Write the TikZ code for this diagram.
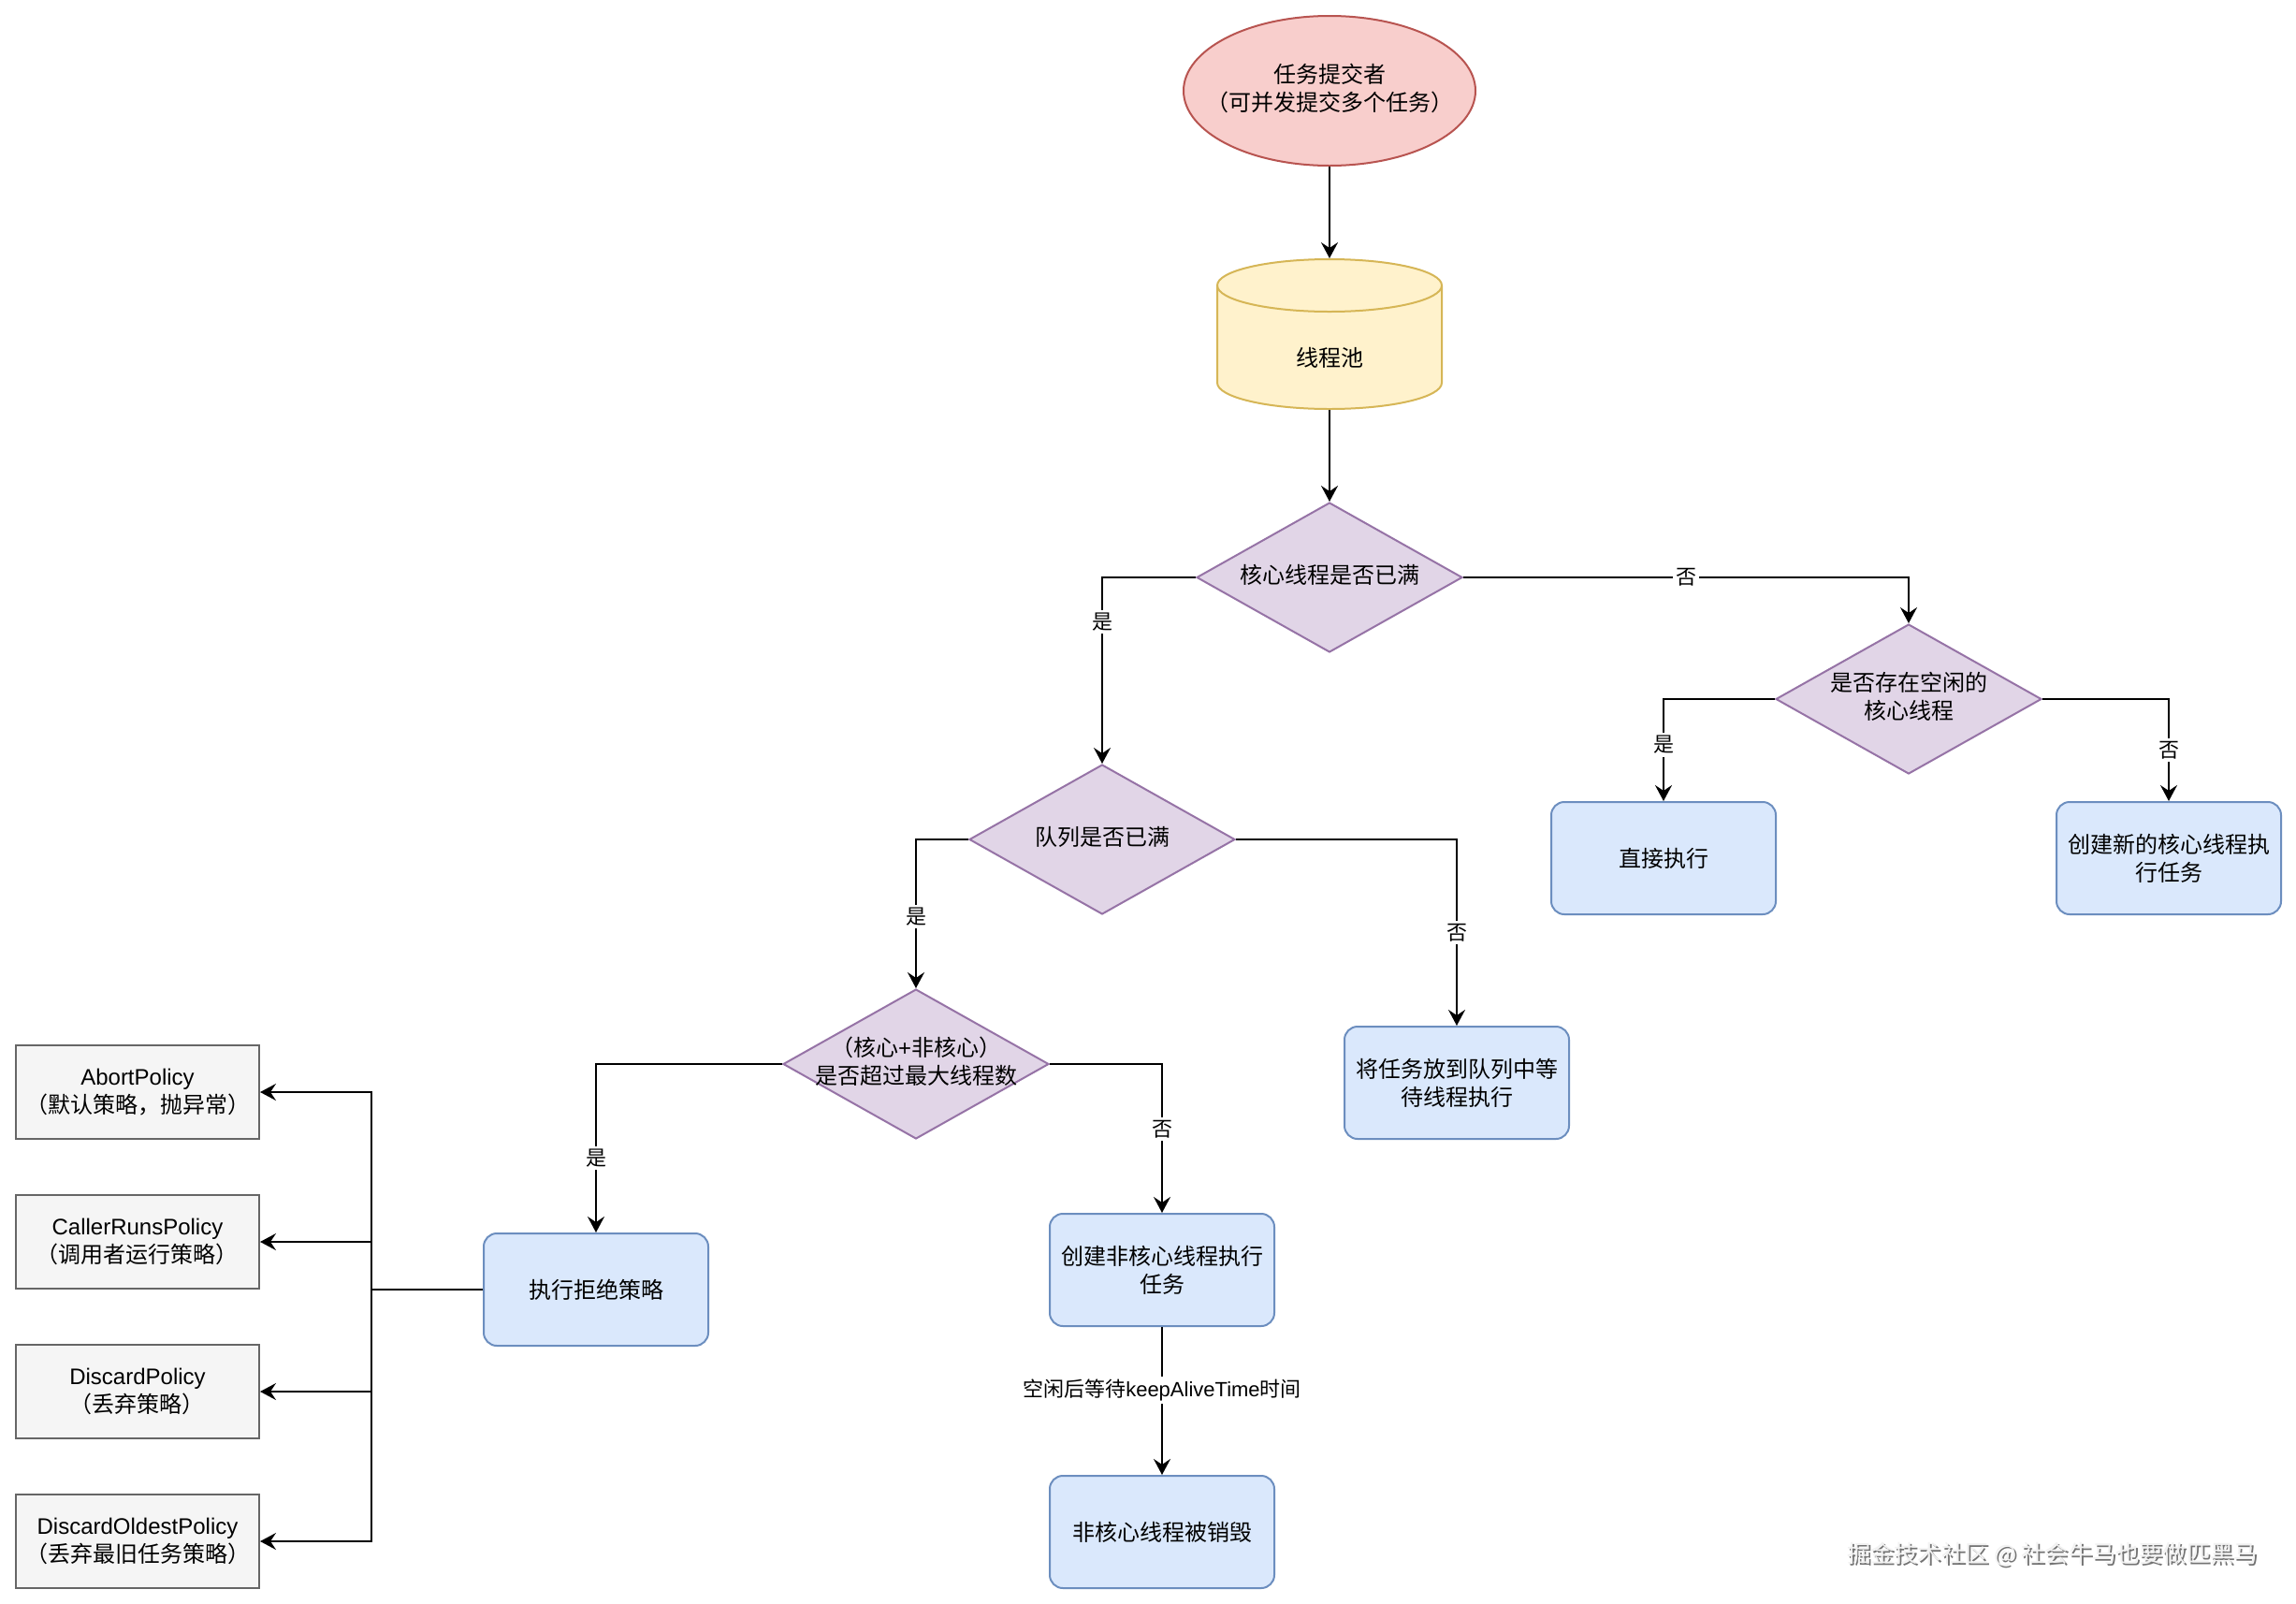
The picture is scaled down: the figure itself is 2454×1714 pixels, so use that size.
\documentclass[tikz,border=0pt]{standalone}
\usepackage{fontspec}
\setmainfont{Noto Sans CJK SC}
\newfontfamily\latin{Liberation Sans}
\usetikzlibrary{shapes.geometric,arrows.meta}
\definecolor{redfill}{HTML}{F8CECC}\definecolor{redline}{HTML}{B85450}
\definecolor{yelfill}{HTML}{FFF2CC}\definecolor{yelline}{HTML}{D6B656}
\definecolor{purfill}{HTML}{E1D5E7}\definecolor{purline}{HTML}{9673A6}
\definecolor{bluefill}{HTML}{DAE8FC}\definecolor{blueline}{HTML}{6C8EBF}
\definecolor{grayfill}{HTML}{F5F5F5}\definecolor{grayline}{HTML}{666666}
\newcommand{\dtext}[1]{\makebox[0pt]{\begin{tabular}{@{}c@{}}#1\end{tabular}}}
\newcommand{\wmark}[1]{\makebox[0pt][l]{\kern1pt\raisebox{-1pt}{\color{black!55}#1}}{\color{black!5}#1}}
\tikzset{
  base/.style={font=\fontsize{12}{15}\selectfont, line width=1pt, align=center},
  procbox/.style={base, rectangle, rounded corners=7pt, draw=blueline, fill=bluefill, minimum width=120pt, minimum height=60pt},
  decision/.style={base, diamond, draw=purline, fill=purfill, minimum width=142pt, minimum height=80pt, inner sep=0pt},
  policy/.style={base, rectangle, draw=grayline, fill=grayfill, minimum width=130pt, minimum height=50pt},
  arr/.style={line width=1pt, -{Stealth[length=8.5pt,width=9pt,inset=3pt]}},
  lbl/.style={font=\fontsize{11}{13}\selectfont, fill=white, inner sep=1.5pt},
}
\begin{document}
\begin{tikzpicture}[x=0.5pt,y=-0.5pt]
\fill[white] (0,0) rectangle (2454,1714);
\useasboundingbox (0,0) rectangle (2454,1714);

% submitter
\node[base, ellipse, draw=redline, fill=redfill, minimum width=156pt, minimum height=80pt, inner sep=0pt] (sub) at (1421,97) {\dtext{任务提交者\\（可并发提交多个任务）}};

% thread pool cylinder
\fill[yelfill] (1301,305) -- (1301,409) arc[start angle=180, end angle=0, x radius=120, y radius=28] -- (1541,305) arc[start angle=0, end angle=-180, x radius=120, y radius=28] -- cycle;
\draw[yelline, line width=1pt] (1301,305) -- (1301,409) arc[start angle=180, end angle=0, x radius=120, y radius=28] -- (1541,305) arc[start angle=0, end angle=-180, x radius=120, y radius=28] -- cycle;
\draw[yelline, line width=1pt] (1301,305) arc[start angle=180, end angle=0, x radius=120, y radius=28];
\node[base, minimum width=120pt, minimum height=80pt, inner sep=0pt] (pool) at (1421,357) {\raisebox{-17pt}[0pt][0pt]{线程池}};

% decisions
\node[decision] (d1) at (1421,617) {\dtext{核心线程是否已满}};
\node[decision] (d2) at (2040,747) {\dtext{是否存在空闲的\\核心线程}};
\node[decision] (d3) at (1178,897) {\dtext{队列是否已满}};
\node[decision] (d4) at (979,1137) {\dtext{（核心{\latin +}非核心）\\是否超过最大线程数}};

% process boxes
\node[procbox] (exec) at (1778,917) {直接执行};
\node[procbox] (newcore) at (2318,917) {创建新的核心线程执\\行任务};
\node[procbox] (queue) at (1557,1157) {将任务放到队列中等\\待线程执行};
\node[procbox] (reject) at (637,1378) {执行拒绝策略};
\node[procbox] (noncore) at (1242,1357) {创建非核心线程执行\\任务};
\node[procbox] (destroy) at (1242,1637) {非核心线程被销毁};

% policies
\node[policy] (p1) at (147,1167) {{\latin AbortPolicy}\\（默认策略，抛异常）};
\node[policy] (p2) at (147,1327) {{\latin CallerRunsPolicy}\\（调用者运行策略）};
\node[policy] (p3) at (147,1487) {{\latin DiscardPolicy}\\（丢弃策略）};
\node[policy] (p4) at (147,1647) {{\latin DiscardOldestPolicy}\\（丢弃最旧任务策略）};

% connectors
\draw[arr] (sub.south) -- (pool.north);
\draw[arr] (pool.south) -- (d1.north);
\draw[arr] (d1.west) -| node[lbl,pos=0.62]{是} (d3.north);
\draw[arr] (d1.east) -| node[lbl,pos=0.25]{否} (d2.north);
\draw[arr] (d2.west) -| node[lbl,pos=0.725]{是} (exec.north);
\draw[arr] (d2.east) -| node[lbl,pos=0.75]{否} (newcore.north);
\draw[arr] (d3.west) -| node[lbl,pos=0.76]{是} (d4.north);
\draw[arr] (d3.east) -| node[lbl,pos=0.75]{否} (queue.north);
\draw[arr] (d4.west) -| node[lbl,pos=0.78]{是} (reject.north);
\draw[arr] (d4.east) -| node[lbl,pos=0.72]{否} (noncore.north);
\draw[arr] (noncore.south) -- node[lbl,pos=0.425]{空闲后等待{\latin keepAliveTime}时间} (destroy.north);

\coordinate (bus) at (397,1378);
\draw[arr] (reject.west) -- (bus) |- (p1.east);
\draw[arr] (reject.west) -- (bus) |- (p2.east);
\draw[arr] (reject.west) -- (bus) |- (p3.east);
\draw[arr] (reject.west) -- (bus) |- (p4.east);

% watermark
\node[anchor=east, font=\fontsize{12.6}{15}\selectfont, inner sep=0pt] (wm) at (2413,1662) {\wmark{掘金技术社区 @ 社会牛马也要做匹黑马}};
\end{tikzpicture}
\end{document}
